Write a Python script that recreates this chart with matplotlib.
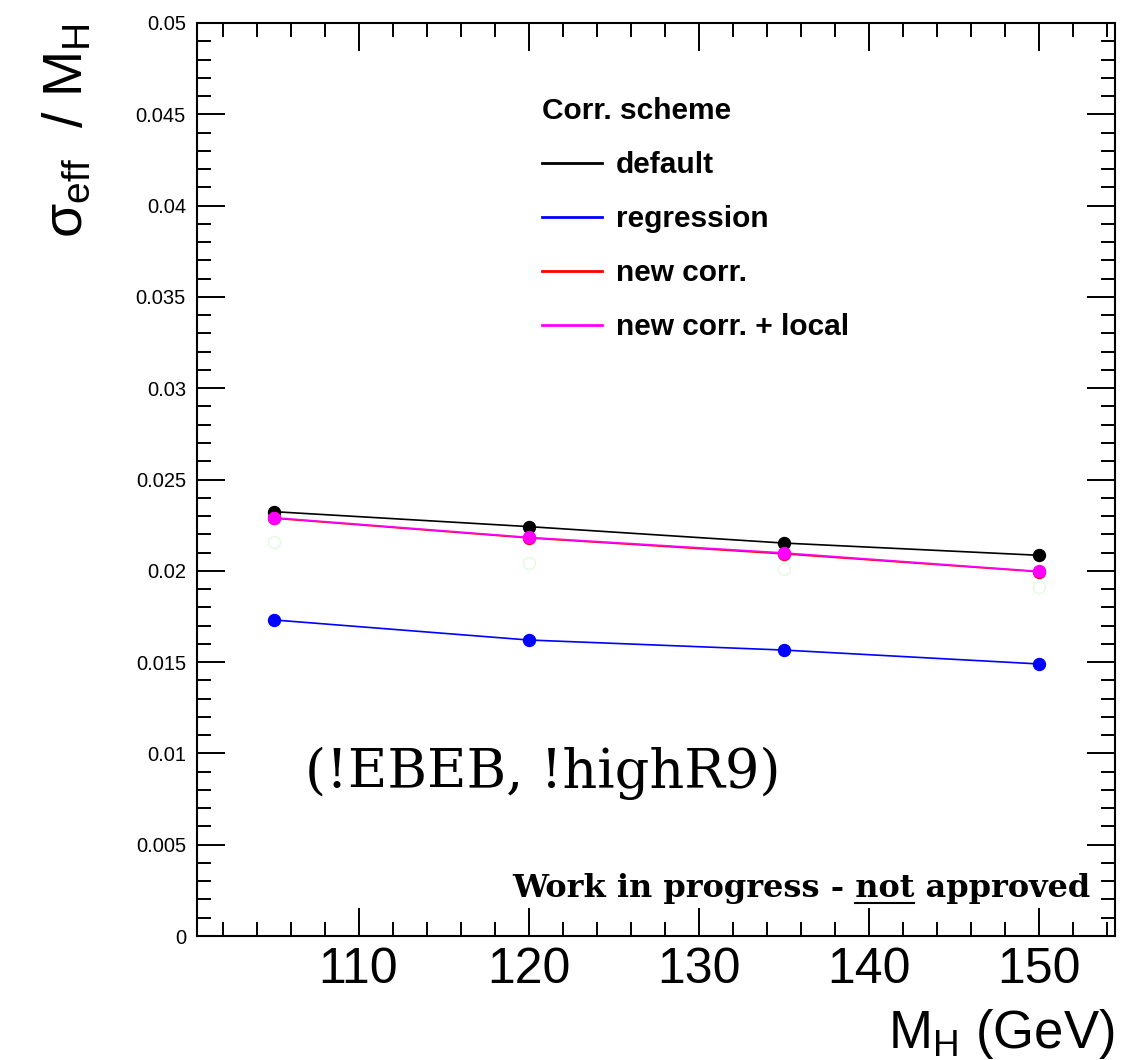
import numpy as np
import matplotlib
matplotlib.use("Agg")
import matplotlib.pyplot as plt
from matplotlib.lines import Line2D
from matplotlib.ticker import MultipleLocator, FixedLocator, FixedFormatter

plt.rcParams['font.family'] = ['Liberation Sans', 'DejaVu Sans']
plt.rcParams['mathtext.fontset'] = 'custom'
plt.rcParams['mathtext.rm'] = 'Liberation Sans'
plt.rcParams['mathtext.it'] = 'Liberation Sans:italic'

# Higgs mass points (GeV)
mass = [105, 120, 135, 150]

# sigma_eff / M_H for each correction scheme
default = [0.02324, 0.02242, 0.02152, 0.02085]
regression = [0.01731, 0.01621, 0.01566, 0.01490]
new_corr = [0.02288, 0.02180, 0.02093, 0.01995]
new_corr_local = [0.02291, 0.02183, 0.02098, 0.01997]
unlabelled = [0.02160, 0.02040, 0.02010, 0.01910]

schemes = ["default", "regression", "new corr.", "new corr. + local"]
colors = ["black", "blue", "red", "magenta"]

yticks = [0, 0.005, 0.01, 0.015, 0.02, 0.025, 0.03, 0.035, 0.04, 0.045, 0.05]
ytick_labels = ["0", "0.005", "0.01", "0.015", "0.02", "0.025", "0.03",
                "0.035", "0.04", "0.045", "0.05"]
xticks = [110, 120, 130, 140, 150]

fig = plt.figure(figsize=(11.27, 10.60), dpi=100)
ax = fig.add_axes([197 / 1127, 124 / 1060, 918 / 1127, 913 / 1060])

ax.plot(mass, unlabelled, linestyle='none', marker='o', markersize=8.6,
        markerfacecolor='none', markeredgecolor='#e2fae2', markeredgewidth=1)
series = [default, regression, new_corr, new_corr_local]
for vals, c in zip(series, colors):
    ax.plot(mass, vals, color=c, linewidth=1.2, marker='o', markersize=8.6,
            markeredgecolor=c, markerfacecolor=c)

ax.set_xlim(100.5, 154.5)
ax.set_ylim(0, 0.05)

ax.xaxis.set_major_locator(FixedLocator(xticks))
ax.xaxis.set_minor_locator(MultipleLocator(2))
ax.yaxis.set_major_locator(FixedLocator(yticks))
ax.yaxis.set_major_formatter(FixedFormatter(ytick_labels))
ax.yaxis.set_minor_locator(MultipleLocator(0.001))

ax.tick_params(which='both', direction='in', top=True, right=True, width=1.4)
ax.tick_params(which='major', length=20)
ax.tick_params(which='minor', length=10)
ax.tick_params(axis='x', which='major', labelsize=36, pad=8)
ax.tick_params(axis='y', which='major', labelsize=14.5, pad=8)
for s in ax.spines.values():
    s.set_linewidth(1.5)

ax.set_xlabel(r'M$_{\mathrm{H}}$ (GeV)', fontsize=38, loc='right', labelpad=10)
ax.set_ylabel(r'σ$_{\mathrm{eff}}$  / M$_{\mathrm{H}}$', fontsize=40,
              loc='top', labelpad=30)

handles = [Line2D([], [], color=c, linewidth=2) for c in colors]
leg = ax.legend(handles, schemes, loc='upper left', bbox_to_anchor=(0.347, 0.948),
                frameon=False, handlelength=2.0, labelspacing=0.87,
                prop={'weight': 'bold', 'size': 21.5}, title='Corr. scheme',
                title_fontproperties={'weight': 'bold', 'size': 21.5},
                alignment='left', handletextpad=0.45)

ax.text(0.118, 0.178, '(!EBEB, !highR9)', transform=ax.transAxes,
        family=['DejaVu Serif'], fontsize=39, va='center')

# watermark with the word "not" underlined
wm_font = dict(family=['DejaVu Serif'], fontsize=23, fontweight='bold')
wm = ax.text(0.973, 0.043, 'Work in progress - not approved',
             transform=ax.transAxes, ha='right', va='baseline', **wm_font)
fig.canvas.draw()
r = fig.canvas.get_renderer()
bb = wm.get_window_extent(r)
pre = fig.text(0, 0, 'Work in progress - ', **wm_font)
upto = fig.text(0, 0, 'Work in progress - not', **wm_font)
w_pre = pre.get_window_extent(r).width
w_upto = upto.get_window_extent(r).width
pre.remove()
upto.remove()
base = ax.transAxes.transform((0, 0.043))[1] - 6
x0 = bb.x0 + w_pre
x1 = bb.x0 + w_upto
fig.add_artist(Line2D([x0 / fig.bbox.width, x1 / fig.bbox.width],
                      [base / fig.bbox.height] * 2, color='black',
                      linewidth=1.5, transform=fig.transFigure))

fig.savefig('out.png', dpi=100)
